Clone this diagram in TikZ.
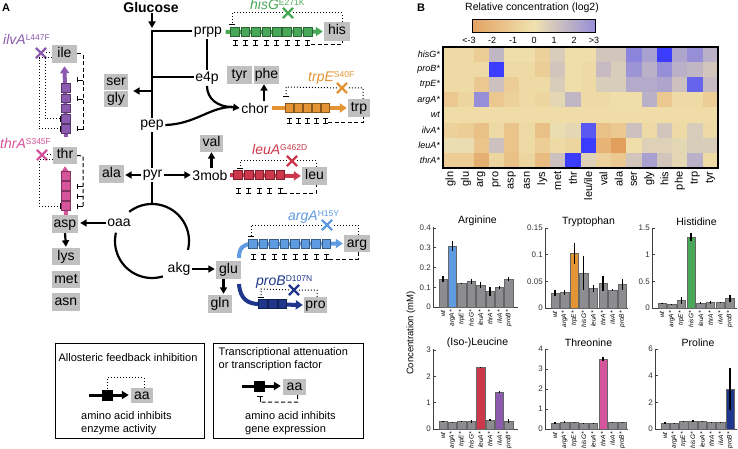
\documentclass[tikz,border=0pt]{standalone}
\usepackage{fontspec}
\setmainfont{Liberation Sans}
\usetikzlibrary{arrows.meta,shapes.misc}
\definecolor{boxgray}{RGB}{192,192,192}
\definecolor{cgreen}{RGB}{72,168,88}
\definecolor{corange}{RGB}{228,148,52}
\definecolor{cred}{RGB}{205,55,75}
\definecolor{clblue}{RGB}{95,155,225}
\definecolor{cdblue}{RGB}{30,55,140}
\definecolor{cpurple}{RGB}{140,90,175}
\definecolor{cpink}{RGB}{212,85,155}
\definecolor{hmcream}{RGB}{240,226,175}
\definecolor{hmorange}{RGB}{214,98,22}
\definecolor{hmblue}{RGB}{60,60,255}
\definecolor{bargray}{RGB}{140,140,145}
\newcommand\fs[1]{\fontsize{#1}{#1}\selectfont}
\newcommand\sups[1]{\raisebox{4pt}{\fs{8.5}\upshape #1}}
\pgfdeclarehorizontalshading{cbar}{100bp}{color(0bp)=(hmorange); color(50bp)=(hmcream); color(100bp)=(hmblue)}
\tikzset{
  lab/.style={font=\fs{14}, inner sep=1.5pt},
  aab/.style={fill=boxgray, font=\fs{14}, inner sep=0pt, minimum height=18pt, minimum width=25pt, text height=10pt, text depth=3pt},
  mainln/.style={line width=2.2pt},
  arr/.style={mainln, -{Triangle[length=6.5pt,width=7pt]}},
  garr/.style={line width=4pt, -{Triangle[length=7pt,width=9pt]}},
  gsq/.style={line width=0.8pt, minimum size=8.6pt, inner sep=0pt},
  fb/.style={dotted, line width=1pt},
  ta/.style={dash pattern=on 4pt off 2.5pt, line width=1pt},
  tmark/.style={line width=0.9pt},
  ibar/.style={line width=1pt},
  xmk/.style={cross out, draw, line width=2.2pt, minimum size=8pt, inner sep=0pt},
  glab/.style={anchor=base west, inner sep=0pt, font=\fs{14}\itshape},
  lgt/.style={font=\fs{11}, inner sep=1pt},
  lbox/.style={line width=1pt},
  axln/.style={line width=0.7pt, black!75},
  tick/.style={anchor=east, font=\fs{8}, inner sep=0.5pt, text=black!80},
  strain/.style={rotate=90, anchor=east, font=\fs{6.5}\itshape, inner sep=0.5pt},
  btitle/.style={font=\fs{10.5}, inner sep=0pt},
}
\newcommand\hsq[5]{\foreach \kk in {1,...,#5} \node[gsq, fill=#1, draw=#1!60!black] at ({#3+(\kk-1)*#4},#2) {};}
\newcommand\tmk[4]{\foreach \kk in {1,...,#4} {\draw[tmark] ({#2+(\kk-1)*#3-2.5},#1) -- ++(5,0) ({#2+(\kk-1)*#3},#1) -- ++(0,-5) ({#2+(\kk-1)*#3-2.5},#1-5) -- ++(5,0);}}
\newcommand\barpanel[8]{%
  \draw[axln] (#1,#2-80) -- (#1,#2) -- (#8,#2);
  \foreach \tv/\lb in {#6} {\draw[axln] (#1,#2-\tv*#3) -- ++(2.5,0); \node[tick] at (#1-1.5,#2-\tv*#3) {\lb};}
  \foreach \bv/\be/\bc [count=\ii from 0] in {#5} {%
    \pgfmathsetmacro\xc{#1+10+\ii*#4}
    \pgfmathsetmacro\yt{#2-\bv*#3}
    \fill[fill=\bc, draw=black!60, line width=0.5pt] (\xc-4.2,#2) rectangle (\xc+4.2,\yt);
    \draw[line width=1.3pt] (\xc,\yt-\be*#3) -- (\xc,\yt+\be*#3);
  }
  \foreach \sn [count=\ii from 0] in {wt,argA*,trpE*,hisG*,leuA*,thrA*,ilvA*,proB*} {%
    \pgfmathsetmacro\xc{#1+10+\ii*#4}
    \node[strain] at (\xc,#2+2.5) {\sn};
  }
  \node[btitle] at ({(#1+#8)/2+2},#2-86) {#7};
}
\begin{document}
\begin{tikzpicture}[x=1pt,y=-1pt]
\useasboundingbox (0,0) rectangle (738,449);
\fill[white] (0,0) rectangle (738,449);
% ---------------- Panel A ----------------
\node[font=\fs{11}\bfseries, inner sep=0] at (6,8) {A};
\node[font=\fs{14}\bfseries, inner sep=1pt] (glc) at (151,7) {Glucose};
\node[lab] (prpp) at (208,32) {prpp};
\node[lab] (e4p) at (207,78) {e4p};
\node[lab] (pep) at (152,125) {pep};
\node[lab] (pyr) at (152.5,175) {pyr};
\node[lab] (mob) at (210,175) {3mob};
\node[lab] (chor) at (255,108) {chor};
\node[lab] (oaa) at (119,223) {oaa};
\node[lab] (akg) at (179,269) {akg};
% boxes
\node[aab] (bile) at (64.5,54) {ile};
\node[aab, minimum width=24pt, minimum height=17pt] (bthr) at (65,155.5) {thr};
\node[aab, minimum width=24pt, minimum height=16pt] (bser) at (116,82.5) {ser};
\node[aab, minimum width=24pt, minimum height=16pt] (bgly) at (116,99.5) {gly};
\node[aab] (btyr) at (239.5,75) {tyr};
\node[aab] (bphe) at (266.5,75) {phe};
\node[aab, minimum width=26pt, minimum height=19pt] (bhis) at (337,31.5) {his};
\node[aab, minimum width=22pt] (btrp) at (359,108) {trp};
\node[aab, minimum width=23pt, minimum height=17pt] (bval) at (211.5,143.5) {val};
\node[aab] (bleu) at (314.5,176) {leu};
\node[aab] (bala) at (111.5,174) {ala};
\node[aab, minimum width=26pt] (basp) at (65,224) {asp};
\node[aab, minimum width=28pt, minimum height=17pt] (blys) at (66,256.5) {lys};
\node[aab, minimum width=28pt, minimum height=17pt] (bmet) at (66,279.5) {met};
\node[aab, minimum width=28pt] (basn) at (66,302) {asn};
\node[aab] (bglu) at (228.5,270) {glu};
\node[aab, minimum width=24pt] (bgln) at (220,304) {gln};
\node[aab, minimum width=26pt, minimum height=17pt] (barg) at (357,243.5) {arg};
\node[aab, minimum width=23pt, minimum height=16pt] (bpro) at (315.5,305) {pro};
% main pathway
\coordinate (j1) at (152,31);
\coordinate (j2) at (152,77);
\coordinate (j3) at (152,91);
\coordinate (jc) at (232,107);
\coordinate (ctop) at (152,204);
\draw[arr] (glc.south -| j1) -- ([yshift=3pt]j1);
\draw[mainln] (prpp.west |- j1) -- (j1) -- (pep.north -| j1);
\draw[mainln] (j2) -- (e4p.west |- j2);
\draw[arr] (j3) -- ([xshift=5pt]bser.east |- j3);
\draw[mainln] (prpp.south -| e4p) -- (e4p.north);
\draw[mainln] (e4p.south) .. controls +(0,13) and +(-14,0) .. (jc);
\draw[mainln] (pep.east) .. controls +(30,-1) and +(-22,0) .. (jc);
\draw[arr] ([xshift=-1pt]jc) -- (chor.west);
\draw[arr] ([xshift=9pt]chor.north) -- ([xshift=9pt]chor.north |- bphe.south);
\draw[mainln] (pep.south -| j1) -- (pyr.north -| j1);
\draw[arr] (pyr.west) -- ([xshift=1pt]bala.east |- pyr.west);
\draw[arr] (pyr.east) -- (mob.west);
\draw[arr] (mob.north -| bval.south) -- (bval.south);
\draw[mainln] (pyr.south -| j1) -- (ctop);
% TCA-like cycle (visual angles, y pointing down)
\draw[mainln] plot[domain=-14:128, samples=60, smooth] ({152+37*cos(\x)},{241-37*sin(\x)});
\draw[mainln] plot[domain=167:287, samples=60, smooth] ({152+37*cos(\x)},{241-37*sin(\x)});
\draw[arr] (oaa.west) -- ([xshift=2pt]basp.east |- oaa.west);
\draw[arr] (basp.south) -- ([yshift=1pt]blys.north);
\draw[arr] (akg.east) -- ([xshift=-1pt]bglu.west |- akg.east);
\draw[arr] ([xshift=-5pt]bglu.south) -- ([xshift=-5pt,yshift=1pt]bglu.south |- bgln.north);
% ---- his cluster (green)
\draw[cgreen, garr] ([xshift=2pt]prpp.east) -- ([xshift=-1pt]bhis.west);
\hsq{cgreen}{32}{235}{10.4}{8}
\node[xmk, draw=cgreen] (xhis) at (288,13) {};
\draw[fb] ([xshift=5pt]bhis.north) |- (xhis) -- (232,13) -- (232,25);
\draw[ibar] (229,25) -- (235,25);
\tmk{45}{235}{10.4}{8}
\draw[ta] (311,45) -| ([xshift=5pt]bhis.south);
\node[glab, text=cgreen] at (250,10) {hisG\sups{E271K}};
% ---- trp cluster (orange)
\draw[corange, garr] ([xshift=2pt]chor.east) -- ([xshift=-1pt]btrp.west);
\hsq{corange}{108}{289.5}{9}{5}
\node[xmk, draw=corange] (xtrp) at (342,88) {};
\draw[fb] ([xshift=4pt]btrp.north) |- (xtrp) -- (286,87) -- (286,97);
\draw[ibar] (283,97) -- (289,97);
\tmk{123}{289.5}{9}{5}
\draw[ta] (328,123) -| ([xshift=4pt]btrp.south);
\node[glab, text=corange] at (308,82) {trpE\sups{S40F}};
% ---- leu cluster (red)
\draw[cred, garr] ([xshift=1pt]mob.east) -- ([xshift=-1pt]bleu.west);
\hsq{cred}{175}{238}{10.6}{5}
\node[xmk, draw=cred] (xleu) at (292,161) {};
\draw[fb] ([xshift=1.5pt]bleu.north) |- (xleu) -- (240,161) -- (240,169);
\draw[ibar] (237,169) -- (243,169);
\tmk{193}{238}{10.6}{5}
\draw[ta] (283,193) -| ([xshift=1.5pt]bleu.south);
\node[glab, text=cred] at (252,155) {leuA\sups{G462D}};
% ---- arg cluster (light blue)
\draw[clblue, line width=4pt] (239,258) .. controls (239,248) and (243,244) .. (252,244);
\draw[clblue, garr] (250,244) -- ([xshift=-1pt]barg.west);
\hsq{clblue}{244}{253}{10.5}{8}
\node[xmk, draw=clblue] (xarg) at (327,225) {};
\draw[fb] ([xshift=1pt]barg.north) |- (xarg) -- (251,225) -- (251,236);
\draw[ibar] (248,236) -- (254,236);
\tmk{259}{253}{10.5}{8}
\draw[ta] (329,259) -| ([xshift=1pt]barg.south);
\node[glab, text=clblue] at (288,220) {argA\sups{H15Y}};
% ---- pro cluster (dark blue)
\draw[cdblue, line width=4pt] (239,284) .. controls (240,299) and (248,304) .. (259,304);
\draw[cdblue, garr] (257,304) -- ([xshift=-1pt]bpro.west);
\hsq{cdblue}{304}{263}{9.7}{3}
\node[xmk, draw=cdblue] (xpro) at (294,290) {};
\draw[fb] ([xshift=1.5pt]bpro.north) |- (xpro) -- (261,289) -- (261,297);
\draw[ibar] (258,297) -- (264,297);
\node[glab, text=cdblue] at (256,285) {proB\sups{D107N}};
% ---- ile cluster (purple, vertical)
\draw[cpurple, garr] (66,137) -- ([yshift=-3pt]bile.south);
\foreach \kk in {0,...,4} \node[gsq, fill=cpurple, draw=cpurple!60!black] at (66,{88+\kk*10.3}) {};
\node[xmk, draw=cpurple] (xilv) at (41,53) {};
\draw[fb] (xilv.east) -- (bile.west |- xilv);
\draw[fb] ([yshift=-4pt]bile.west) -| (39,129) -- (60,129);
\draw[ibar] (60,126) -- (60,132);
\draw[fb] (45,58) -- (45,119) -- (60,119);
\draw[ibar] (60,116) -- (60,122);
\draw[ta] (bile.east) -- (83,54) -- (83,130);
\foreach \yy in {80,99,129} {\draw[tmark] (83,\yy) -- (77,\yy) (77,\yy-2.5) -- (77,\yy+2.5);}
\node[glab, text=cpurple] at (3,45) {ilvA\sups{L447F}};
% ---- thr cluster (pink, vertical)
\draw[cpink, garr] (basp.north -| 66,0) -- ([yshift=-2pt]bthr.south);
\foreach \kk in {0,...,3} \node[gsq, fill=cpink, draw=cpink!60!black] at (66,{176+\kk*10}) {};
\node[xmk, draw=cpink] (xthr) at (42,155) {};
\draw[fb] (xthr.east) -- (bthr.west |- xthr);
\draw[fb] ([yshift=-4pt]bthr.west) -| (39,206) -- (60,206);
\draw[ibar] (60,203) -- (60,209);
\draw[ta] (bthr.east) -- (83,156) -- (83,206);
\foreach \yy in {186,196,206} {\draw[tmark] (83,\yy) -- (77,\yy) (77,\yy-2.5) -- (77,\yy+2.5);}
\node[glab, text=cpink] at (0,149) {thrA\sups{S345F}};
% ---- legends
\draw[lbox] (55,343) rectangle (204,438);
\node[lgt] at (128,358) {Allosteric feedback inhibition};
\node[aab, minimum width=22pt, minimum height=15pt] (laa1) at (142,395.5) {aa};
\node[fill=black, minimum size=11pt, inner sep=0] (lsq1) at (107,395) {};
\draw[line width=3pt, -{Triangle[length=7pt,width=8pt]}, shorten >=2pt] (89,395) -- (laa1.west |- lsq1);
\draw[fb] ([xshift=2pt]laa1.north) -- ++(0,-10) -| (lsq1.north);
\node[lgt, anchor=west] at (80,416) {amino acid inhibits};
\node[lgt, anchor=west] at (80,430) {enzyme activity};
\draw[lbox] (213,343) rectangle (363,438);
\node[lgt, anchor=west] at (217.5,353) {Transcriptional attenuation};
\node[lgt, anchor=west] at (217.5,366) {or transcription factor};
\node[aab, minimum width=23pt, minimum height=16pt] (laa2) at (294.5,387) {aa};
\node[fill=black, minimum size=11pt, inner sep=0] (lsq2) at (259,386) {};
\draw[line width=3pt, -{Triangle[length=7pt,width=8pt]}, shorten >=2pt] (242,386) -- (laa2.west |- lsq2);
\draw[ta] ([xshift=3pt]laa2.south) -- ++(0,7) -- (260,402);
\draw[tmark] (260,402) -- (260,396) (257,396) -- (263,396);
\node[lgt, anchor=west] at (244,416) {amino acid inhibits};
\node[lgt, anchor=west] at (244,430) {gene expression};
% ---------------- Panel B ----------------
\node[font=\fs{11}\bfseries, inner sep=0] at (421,8) {B};
\node[font=\fs{10.5}, inner sep=0] at (532,8) {Relative concentration (log2)};
\shade[shading=cbar] (472,20) rectangle (595,33);
\draw[line width=1pt] (472,20) rectangle (595,33);
\foreach \xx/\lb in {469/{<-3},492/-2,513/-1,534/0,554/1,574/2,594/{>3}} \node[font=\fs{9}, inner sep=0] at (\xx,40) {\lb};
% heatmap
\def\hx{443}\def\hy{47}\def\cw{15.278}\def\ch{15.125}
\foreach \rowvals [count=\ri from 0] in {
 {-0.2,-0.2,-0.5,0.8,-0.1,-0.1,-0.4,0.4,-0.1,-0.1,0.5,0.5,1.7,1.2,3,1.1,1.5,0.9},
 {-0.2,-0.2,-0.2,3,-0.2,-0.2,-0.5,0.5,-0.1,-0.2,0.7,0.4,1.4,0.9,1.5,0.9,0.8,0.5},
 {-0.2,-0.2,-0.6,0.6,-0.5,-0.2,-0.2,0.4,-0.1,-0.2,0.4,0.4,1.0,1.0,1.1,0.6,2.3,0.7},
 {-0.6,-0.3,1.5,-0.6,-0.4,-0.2,-0.3,0.2,0.8,-0.2,-0.2,-0.1,-0.1,0.9,-0.6,-0.2,-0.2,-0.5},
 {-0.15,-0.15,-0.15,-0.15,-0.15,-0.15,-0.15,-0.15,-0.15,-0.15,-0.15,-0.15,-0.15,-0.15,-0.15,-0.15,-0.15,-0.15},
 {-0.4,-0.5,-0.8,-0.2,-0.7,-0.2,-0.8,0.1,0.2,2.5,-0.8,-0.6,0.6,-0.2,0.5,-0.2,0.4,-0.2},
 {0.1,0.1,-0.7,0.6,-0.7,-0.2,-0.5,-0.2,-0.3,3,-1.1,-1.6,-0.1,0.3,0.3,0.2,0.4,0.4},
 {-0.5,-0.5,-1.2,-0.3,-0.8,-0.3,-0.9,0.6,3,0.3,-0.4,-0.6,0.5,1.2,0.5,0.2,0.9,-0.2}} {
  \foreach \bv [count=\ci from 0] in \rowvals {
    \pgfmathsetmacro\pct{min(abs(\bv),3)*100/3}
    \ifdim \bv pt>0pt \colorlet{cc}{hmblue!\pct!hmcream}\else\colorlet{cc}{hmorange!\pct!hmcream}\fi
    \fill[cc] ({\hx+\ci*\cw},{\hy+\ri*\ch}) rectangle ({\hx+(\ci+1)*\cw+0.2},{\hy+(\ri+1)*\ch+0.2});
  }
}
\draw[line width=1.2pt] (443,47) rectangle (718,168);
\foreach \lb [count=\ri from 0] in {hisG*,proB*,trpE*,argA*,wt,ilvA*,leuA*,thrA*}
  \node[anchor=east, font=\fs{9}\itshape, inner sep=1pt] at (441,{\hy+(\ri+0.5)*\ch}) {\lb};
\foreach \lb [count=\ci from 0] in {gln,glu,arg,pro,asp,asn,lys,met,thr,{leu/ile},val,ala,ser,gly,his,phe,trp,tyr}
  \node[rotate=90, anchor=east, font=\fs{11}, inner sep=0.5pt] at ({\hx+(\ci+0.5)*\cw},171) {\lb};
% bar charts
\node[rotate=90, font=\fs{9.5}, inner sep=0] at (411,333) {Concentration (mM)};
\barpanel{433}{307}{197.5}{9.4}{0.14/0.015/bargray,0.31/0.025/clblue,0.12/0.004/bargray,0.13/0.012/bargray,0.11/0.015/bargray,0.08/0.022/bargray,0.10/0.007/bargray,0.14/0.01/bargray}{0/0,0.1/0.1,0.2/0.2,0.3/0.3,0.4/0.4}{Arginine}{518}
\barpanel{545}{308}{533.3}{9.6}{0.028/0.006/bargray,0.029/0.004/bargray,0.102/0.02/corange,0.065/0.032/bargray,0.037/0.007/bargray,0.046/0.014/bargray,0.034/0.002/bargray,0.044/0.01/bargray}{0/0,0.05/0.05,0.1/0.1,0.15/0.15}{Tryptophan}{628}
\barpanel{652}{308}{53.33}{9.7}{0.08/0.01/bargray,0.07/0.01/bargray,0.14/0.06/bargray,1.33/0.07/cgreen,0.09/0.02/bargray,0.11/0.03/bargray,0.10/0.01/bargray,0.18/0.07/bargray}{0/0,0.5/0.5,1/1,1.5/1.5}{Histidine}{737}
\barpanel{433}{429}{26.33}{9.4}{0.28/0.02/bargray,0.26/0.01/bargray,0.28/0.02/bargray,0.28/0.05/bargray,2.33/0.01/cred,0.35/0.04/bargray,1.4/0.03/cpurple,0.3/0.07/bargray}{0/0,1/1,2/2,3/3}{(Iso-)Leucine}{518}
\barpanel{545}{429}{20}{9.6}{0.3/0.03/bargray,0.35/0.03/bargray,0.32/0.01/bargray,0.3/0.01/bargray,0.28/0.01/bargray,3.5/0.1/cpink,0.33/0.01/bargray,0.33/0.01/bargray}{0/0,1/1,2/2,3/3,4/4}{Threonine}{628}
\barpanel{655}{429}{13.33}{9.3}{0.45/0.05/bargray,0.4/0.03/bargray,0.55/0.03/bargray,0.6/0.08/bargray,0.55/0.02/bargray,0.5/0.02/bargray,0.5/0.02/bargray,3.0/1.6/cdblue}{0/0,2/2,4/4,6/6}{Proline}{737}
\end{tikzpicture}
\end{document}
